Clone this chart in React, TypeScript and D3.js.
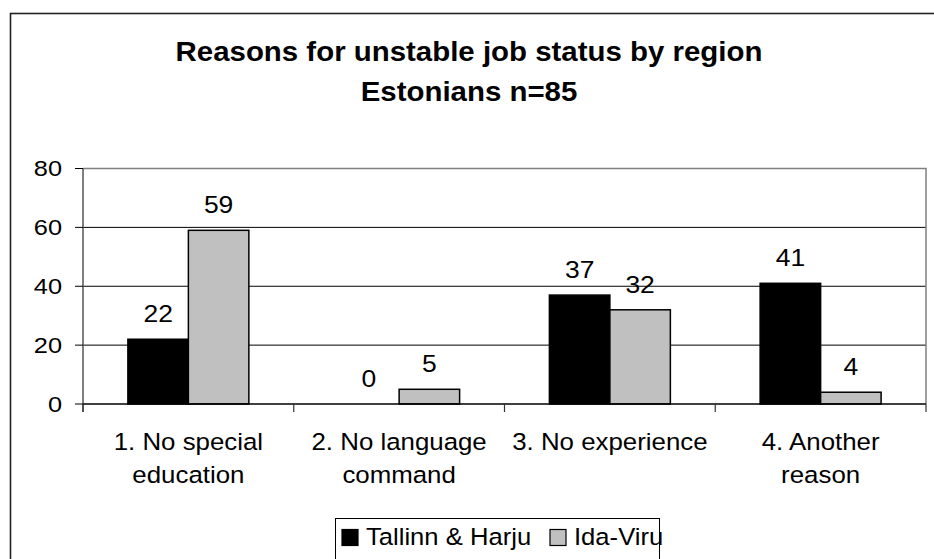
import * as d3 from 'd3'

const categories = [
  ['1. No special', 'education'],
  ['2. No language', 'command'],
  ['3. No experience'],
  ['4. Another', 'reason'],
]
const seriesNames = ['Tallinn & Harju', 'Ida-Viru']
const tallinnHarju = [22, 0, 37, 41]
const idaViru = [59, 5, 32, 4]
const seriesColors = ['#000000', '#C0C0C0']
const yTicks = [0, 20, 40, 60, 80]
const titleLines = ['Reasons for unstable job status by region', 'Estonians n=85']

const W = 934
const H = 559
const PLOT_LEFT = 83
const PLOT_RIGHT = 926
const PLOT_TOP = 168.5
const PLOT_BOTTOM = 404
const FONT = 'Liberation Sans, Arial, sans-serif'

interface TextProps {
  x: number
  y: number
  sx?: number
  size: number
  anchor?: 'start' | 'middle' | 'end'
  bold?: boolean
  children: React.ReactNode
}

// GDI-rendered source text is wider than it is tall, so stretch horizontally
function SText({ x, y, sx = 1, size, anchor = 'middle', bold = false, children }: TextProps) {
  return (
    <text
      transform={`translate(${x},${y}) scale(${sx},1)`}
      textAnchor={anchor}
      fontSize={size}
      fontWeight={bold ? 700 : 400}
      fontFamily={FONT}
      fill="#000"
    >
      {children}
    </text>
  )
}

export default function App() {
  const values = [tallinnHarju, idaViru]
  const x0 = d3
    .scaleBand<number>()
    .domain(categories.map((_, i) => i))
    .range([PLOT_LEFT, PLOT_RIGHT])
  const x1 = d3
    .scaleBand<number>()
    .domain(seriesNames.map((_, i) => i))
    .range([0, x0.bandwidth()])
    .paddingOuter(0.742)
  const y = d3.scaleLinear().domain([0, 80]).range([PLOT_BOTTOM, PLOT_TOP])

  const boundaries = d3.range(categories.length + 1).map((i) => PLOT_LEFT + i * x0.step())

  return (
    <div style={{ position: 'absolute', left: 0, top: 0 }}>
      <svg width={W} height={H} style={{ display: 'block', background: '#fff' }}>
        {/* outer chart frame */}
        <rect x={10.5} y={13.5} width={1000} height={1000} fill="#fff" stroke="#222" strokeWidth={1.6} />

        {/* title */}
        {titleLines.map((t, i) => (
          <SText key={t} x={469} y={60.5 + i * 40} size={27} sx={1.09} bold>
            {t}
          </SText>
        ))}

        {/* gridlines */}
        {yTicks
          .filter((t) => t > 0 && t < 80)
          .map((t) => (
            <line key={t} x1={PLOT_LEFT} x2={PLOT_RIGHT} y1={y(t)} y2={y(t)} stroke="#000" strokeWidth={1} />
          ))}
        {/* plot border top/right */}
        <polyline
          points={`${PLOT_LEFT},${PLOT_TOP} ${PLOT_RIGHT},${PLOT_TOP} ${PLOT_RIGHT},${PLOT_BOTTOM}`}
          fill="none"
          stroke="#808080"
          strokeWidth={1.5}
        />

        {/* bars */}
        {values.map((vals, s) =>
          vals.map((v, c) => {
            const bx = (x0(c) ?? 0) + (x1(s) ?? 0)
            return (
              <rect
                key={`${s}-${c}`}
                x={bx}
                y={y(v)}
                width={x1.bandwidth()}
                height={PLOT_BOTTOM - y(v)}
                fill={seriesColors[s]}
                stroke="#000"
                strokeWidth={v > 0 ? 1.5 : 0}
              />
            )
          })
        )}

        {/* data labels */}
        {values.map((vals, s) =>
          vals.map((v, c) => (
            <SText
              key={`l${s}-${c}`}
              x={(x0(c) ?? 0) + (x1(s) ?? 0) + x1.bandwidth() / 2}
              y={y(v) - 17}
              size={24.5}
              sx={1.08}
            >
              {v}
            </SText>
          ))
        )}

        {/* y axis */}
        <line x1={PLOT_LEFT} x2={PLOT_LEFT} y1={PLOT_TOP} y2={PLOT_BOTTOM + 8} stroke="#555" strokeWidth={1.5} />
        {yTicks.map((t) => (
          <g key={t}>
            <line x1={PLOT_LEFT - 8} x2={PLOT_LEFT} y1={y(t)} y2={y(t)} stroke="#000" strokeWidth={1} />
            <SText x={62} y={y(t) + 7.5} size={21.5} sx={1.18} anchor="end">
              {t}
            </SText>
          </g>
        ))}

        {/* x axis */}
        <line x1={PLOT_LEFT} x2={PLOT_RIGHT} y1={PLOT_BOTTOM} y2={PLOT_BOTTOM} stroke="#000" strokeWidth={1.5} />
        {boundaries.map((bx) => (
          <line key={bx} x1={bx} x2={bx} y1={PLOT_BOTTOM} y2={PLOT_BOTTOM + 8} stroke="#333" strokeWidth={1.2} />
        ))}
        {categories.map((lines, c) =>
          lines.map((ln, i) => (
            <SText
              key={`${c}-${i}`}
              x={(x0(c) ?? 0) + x0.bandwidth() / 2}
              y={450 + i * 33}
              size={23.5}
              sx={1.1}
            >
              {ln}
            </SText>
          ))
        )}

        {/* legend */}
        <rect x={335.5} y={518.5} width={324} height={45} fill="#fff" stroke="#000" strokeWidth={1} />
        {[342, 550].map((lx, s) => (
          <g key={s}>
            <rect x={lx} y={529.5} width={16} height={16} fill={seriesColors[s]} stroke="#000" strokeWidth={1.2} />
            <SText x={lx + 24} y={545} size={23.5} sx={1.09} anchor="start">
              {seriesNames[s]}
            </SText>
          </g>
        ))}
      </svg>
    </div>
  )
}
